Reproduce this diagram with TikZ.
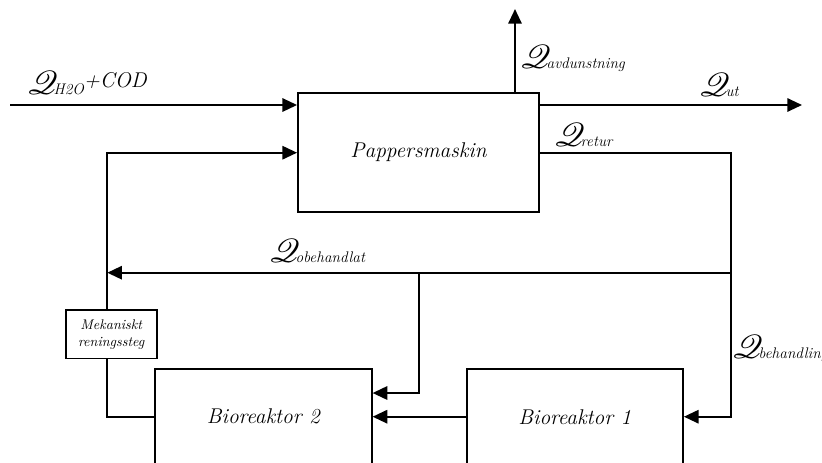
\documentclass[tikz,border=0pt]{standalone}
\usepackage{mathrsfs}
\usetikzlibrary{arrows.meta}
\tikzset{
 box/.style={draw, line width=1.4pt, inner sep=0pt, align=center, font=\fontsize{16}{18}\selectfont\itshape},
 flow/.style={line width=1.5pt},
 arr/.style={flow, -{Triangle[length=11pt,width=10pt]}},
 lab/.style={anchor=base west, inner sep=0pt},
}
\newcommand\Qsym{{\fontsize{23}{25}\selectfont$\mathscr{Q}$}}
\newcommand\Qsub[1]{\Qsym\kern-3pt{\fontsize{11.5}{13}\selectfont\itshape #1}}
\begin{document}
\begin{tikzpicture}[x=0.75pt,y=-0.75pt]
\clip (0,0) rectangle (822,462);
\node[box, minimum width=180.75pt, minimum height=89.5pt] (pm) at (418.5,152.3) {Pappersmaskin};
\node[box, minimum width=162.5pt, minimum height=71.5pt] (b2) at (263.35,416.7) {Bioreaktor 2};
\node[box, minimum width=162.2pt, minimum height=72pt] (b1) at (574.85,416.7) {Bioreaktor 1};
\node[box, line width=1.2pt, font=\fontsize{10.5}{12.75}\selectfont\itshape, minimum width=68.25pt, minimum height=36.2pt] (mek) at (111.2,334.2) {Mekaniskt\\reningssteg};
% inputs
\coordinate (inA) at (10,105);
\draw[arr] (inA) -- (inA -| pm.west);
\coordinate (lvTop) at (107.3,152.7);
\draw[arr] (mek.north -| lvTop) -- (lvTop) -- (lvTop -| pm.west);
\coordinate (lvBot) at (107.3,416.7);
\draw[flow] (b2.west) -- (lvBot) -- (lvBot |- mek.south);
% outputs
\coordinate (avdTop) at (515,9);
\draw[arr] (pm.north -| avdTop) -- (avdTop);
\coordinate (utEnd) at (802,105);
\draw[arr] (utEnd -| pm.east) -- (utEnd);
\coordinate (rtCorner) at (731,152.7);
\draw[arr] (rtCorner -| pm.east) -- (rtCorner) -- (rtCorner |- b1.east) -- (b1.east);
\coordinate (obR) at (731,272.7);
\coordinate (obL) at (107.3,272.7);
\draw[arr] (obR) -- (obL);
\coordinate (brTop) at (419,272.7);
\coordinate (brBot) at (419,393);
\draw[arr] (brTop) -- (brBot) -- (brBot -| b2.east);
\draw[arr] (b1.west) -- (b2.east);
% labels
\node[lab] (lH) at (27,94) {\Qsub{H2O}\raisebox{5.25pt}{\fontsize{16}{18}\selectfont\itshape +COD}};
\node[lab] (lavd) at (520,68) {\Qsub{avdunstning}};
\node[lab] (lut) at (699,96) {\Qsub{ut}};
\node[lab] (lret) at (554,146) {\Qsub{retur}};
\node[lab] (lob) at (269,262) {\Qsub{obehandlat}};
\node[lab] (lbeh) at (732,358) {\Qsub{behandling}};
\end{tikzpicture}
\end{document}
